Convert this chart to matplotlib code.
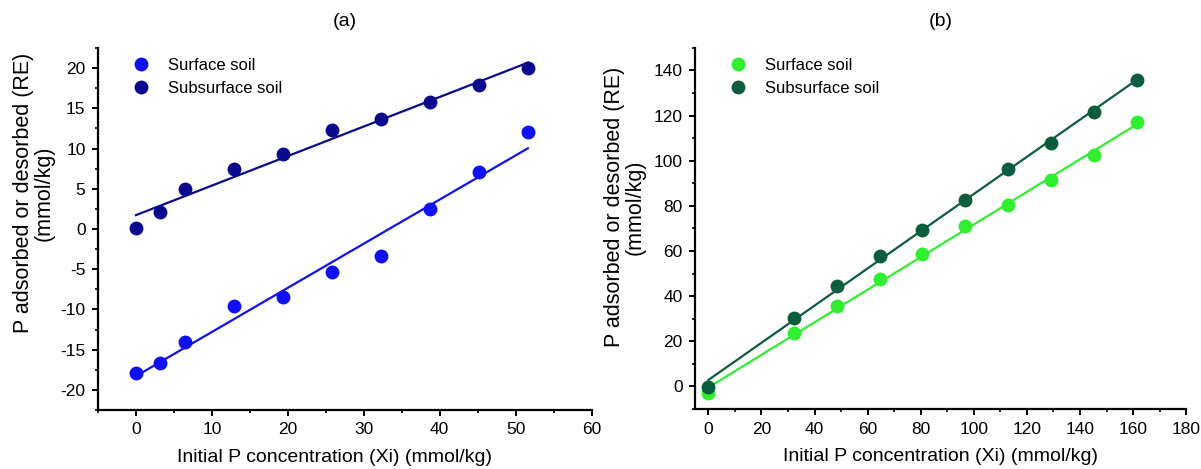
import numpy as np
import matplotlib
matplotlib.use("Agg")
import matplotlib.pyplot as plt
from matplotlib.ticker import MultipleLocator

plt.rcParams['font.family'] = ['Liberation Sans', 'DejaVu Sans']
plt.rcParams['axes.unicode_minus'] = False

# ---- data ----
xa = [0, 3.2, 6.5, 12.9, 19.4, 25.8, 32.3, 38.7, 45.2, 51.6]
surface_a = [-17.9, -16.6, -14.0, -9.6, -8.4, -5.3, -3.4, 2.5, 7.1, 12.0]
subsurface_a = [0.1, 2.1, 5.0, 7.5, 9.3, 12.3, 13.7, 15.8, 17.9, 20.0]

xb = [0, 32.3, 48.4, 64.5, 80.6, 96.8, 112.9, 129.0, 145.2, 161.3]
surface_b = [-3.0, 23.7, 35.6, 47.4, 58.5, 71.1, 80.2, 91.5, 102.4, 117.1]
subsurface_b = [-0.3, 30.5, 44.5, 57.8, 69.5, 82.8, 96.3, 107.9, 121.6, 135.6]

labels = ["Surface soil", "Subsurface soil"]
titles = ["(a)", "(b)"]
xlabel = "Initial P concentration (Xi) (mmol/kg)"
ylabel = "P adsorbed or desorbed (RE)\n(mmol/kg)"

col_a = ["#1010F5", "#0A0A8C"]
col_b = ["#30EE30", "#0C5C3E"]

fig = plt.figure(figsize=(12.01, 4.69), dpi=100)
ax1 = fig.add_axes([0.0816, 0.1258, 0.411, 0.772])
ax2 = fig.add_axes([0.5787, 0.1279, 0.409, 0.770])


def panel(ax, x, series, cols, xlim, ylim, xmaj, xmin, ymaj, ymin, title,
          xlab_x, ylab_x, ylab_y):
    x = np.asarray(x, float)
    for ys, c, lab in zip(series, cols, labels):
        ys = np.asarray(ys, float)
        k, b = np.polyfit(x, ys, 1)
        xx = np.array([x.min(), x.max()])
        ax.plot(xx, k * xx + b, color=c, lw=1.6, zorder=2)
        ax.plot(x, ys, 'o', color=c, ms=10, mec='none', zorder=3, label=lab)
    ax.set_xlim(*xlim)
    ax.set_ylim(*ylim)
    ax.xaxis.set_major_locator(MultipleLocator(xmaj))
    ax.xaxis.set_minor_locator(MultipleLocator(xmin))
    ax.yaxis.set_major_locator(MultipleLocator(ymaj))
    ax.yaxis.set_minor_locator(MultipleLocator(ymin))
    for s in ['top', 'right']:
        ax.spines[s].set_visible(False)
    for s in ['left', 'bottom']:
        ax.spines[s].set_linewidth(1.6)
    ax.tick_params(which='major', direction='out', length=4, width=1.4, labelsize=12.5, pad=5)
    ax.tick_params(which='minor', direction='out', length=2.5, width=1.2)
    ax.set_xlabel(xlabel, fontsize=14)
    ax.set_ylabel(ylabel, fontsize=15.5, linespacing=1.0)
    ax.xaxis.set_label_coords(xlab_x, -0.108)
    ax.yaxis.set_label_coords(ylab_x, ylab_y)
    ax.set_title(title, fontsize=14, pad=16)
    ax.legend(loc='upper left', frameon=False, fontsize=12, handletextpad=1.1,
              borderaxespad=0.2, bbox_to_anchor=(0.05, 1.0), labelspacing=0.5,
              handlelength=1.0)


panel(ax1, xa, [surface_a, subsurface_a], col_a, (-5, 60), (-22.5, 22.5), 10, 5, 5, 2.5,
      titles[0], 0.479, -0.088, 0.60)
panel(ax2, xb, [surface_b, subsurface_b], col_b, (-5, 180), (-10, 150), 20, 10, 20, 10,
      titles[1], 0.5, -0.10, 0.56)

fig.savefig("out.png", dpi=100)
